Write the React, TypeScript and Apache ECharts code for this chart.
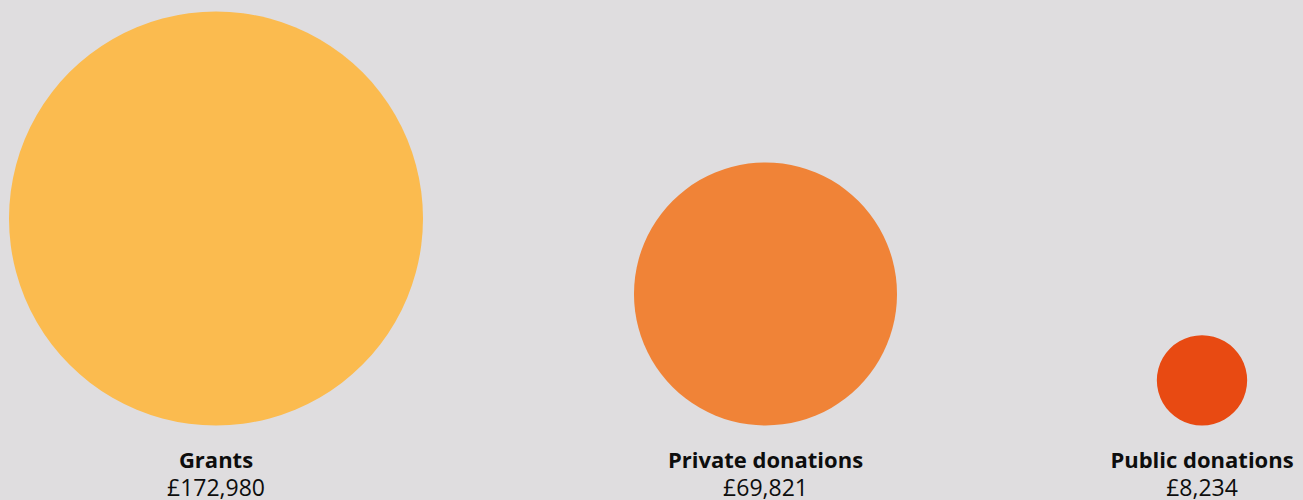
import React, { useEffect, useRef } from "react";
import * as echarts from "echarts";

const categories = ["Grants", "Private donations", "Public donations"];
const amounts = [172980, 69821, 8234];
const valueLabels = ["£172,980", "£69,821", "£8,234"];
const colors = ["#fbbb4f", "#f08337", "#e84a12"];

const gridBoxes = [
  { left: 9, width: 414 },
  { left: 634, width: 263 },
  { left: 1110, width: 184 },
];

const SCALE = 0.9954;

export default function App() {
  const ref = useRef<HTMLDivElement>(null);
  useEffect(() => {
    if (!ref.current) return;
    const chart = echarts.init(ref.current, undefined, { renderer: "svg" });
    const grids = gridBoxes.map((g) => ({ left: g.left, width: g.width, top: 0, bottom: 74.5 }));
    const xAxis = categories.map((c, i) => ({
      type: "category",
      gridIndex: i,
      data: [c],
      axisLine: { show: false },
      axisTick: { show: false },
      splitLine: { show: false },
      axisLabel: {
        interval: 0,
        margin: 19,
        formatter: () => `{n|${c}}\n{v|${valueLabels[i]}}`,
        rich: {
          n: { fontFamily: "Open Sans", fontWeight: "bold", fontSize: 22, color: "#0d0d0d", lineHeight: 28, align: "center" },
          v: { fontFamily: "Open Sans", fontWeight: "normal", fontSize: 23, color: "#0d0d0d", lineHeight: 29, align: "center" },
        },
      },
    }));
    const yAxis = categories.map((_, i) => ({
      type: "value",
      gridIndex: i,
      min: 0,
      max: 1,
      show: false,
    }));
    const series = categories.map((c, i) => {
      const d = Math.sqrt(amounts[i]) * SCALE;
      return {
        type: "scatter",
        xAxisIndex: i,
        yAxisIndex: i,
        silent: true,
        data: [
          {
            value: [c, 0],
            symbolSize: d,
            symbolOffset: [0, -d / 2],
            itemStyle: { color: colors[i], opacity: 1 },
          },
        ],
      };
    });
    chart.setOption({
      animation: false,
      backgroundColor: "#dfdddf",
      grid: grids,
      xAxis,
      yAxis,
      series,
    } as any);
    return () => chart.dispose();
  }, []);
  return <div ref={ref} style={{ width: 1303, height: 500, position: "absolute", left: 0, top: 0 }} />;
}
